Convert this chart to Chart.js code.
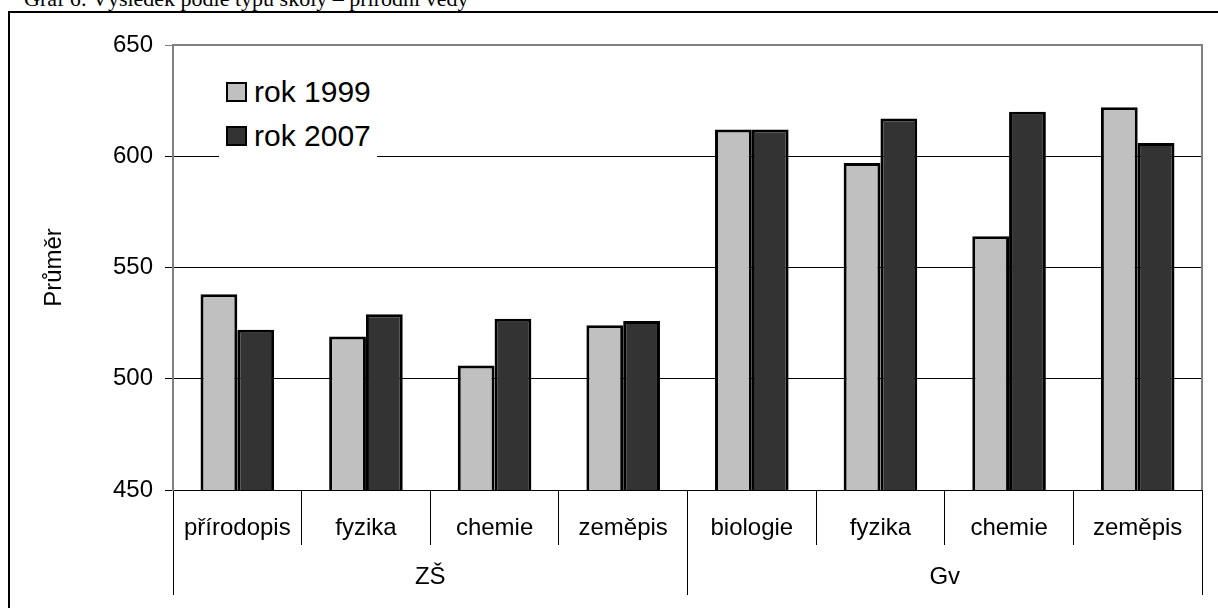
<!DOCTYPE html>
<html>
<head>
<meta charset="utf-8">
<script src="https://cdn.jsdelivr.net/npm/chart.js@4.4.0/dist/chart.umd.min.js"></script>
<style>
  body { margin: 0; background: #fff; overflow: hidden; width: 1218px; height: 608px; position: relative; }
  #title { position: absolute; left: 24px; top: -12px; font-family: 'Liberation Serif', 'Times New Roman', serif; font-size: 22px; line-height: 22px; white-space: nowrap; color: #000; }
  #frame { position: absolute; left: 8px; top: 11px; width: 1300px; height: 700px; border: 2px solid #000; }
  #chart { position: absolute; left: 0; top: 0; }
  #legend { position: absolute; left: 219px; top: 70px; width: 158px; height: 97px; background: #fff; font-family: 'Liberation Sans', Arial, sans-serif; font-size: 30px; color: #000; }
  .item { display: flex; align-items: center; height: 44px; line-height: 44px; padding-left: 7px; }
  .box { width: 21px; height: 20px; box-sizing: border-box; border: 2px solid #000; margin-right: 7px; }
</style>
</head>
<body>
<div id="title">Graf 6: Výsledek podle typu školy – přírodní vědy</div>
<div id="frame"></div>
<canvas id="chart" width="1218" height="608"></canvas>
<div id="legend"></div>
<script>
// hodnoty
const subjects = ['přírodopis', 'fyzika', 'chemie', 'zeměpis', 'biologie', 'fyzika', 'chemie', 'zeměpis'];
const schoolTypes = ['ZŠ', 'Gv'];
const seriesLabels = ['rok 1999', 'rok 2007'];
const rok1999 = [538, 519, 506, 524, 612, 597, 564, 622];
const rok2007 = [522, 529, 527, 526, 612, 617, 620, 606];

const colors = ['#c0c0c0', '#333333'];
const font = { family: "'Liberation Sans', Arial, sans-serif", size: 24 };

// šedý rámeček kolem plochy grafu (nahoře a vpravo)
const plotFrame = {
    id: 'plotFrame',
    beforeDatasetsDraw(chart) {
        const { ctx, chartArea: a } = chart;
        ctx.save();
        ctx.strokeStyle = '#808080';
        ctx.lineWidth = 2;
        ctx.beginPath();
        ctx.moveTo(a.left, a.top);
        ctx.lineTo(a.right, a.top);
        ctx.lineTo(a.right, a.bottom);
        ctx.stroke();
        ctx.restore();
    }
};

const ctx = document.getElementById('chart').getContext('2d');
const chart = new Chart(ctx, {
    type: 'bar',
    data: {
        labels: subjects,
        datasets: [rok1999, rok2007].map((values, i) => ({
            label: seriesLabels[i],
            data: values,
            backgroundColor: colors[i],
            borderColor: '#000',
            borderWidth: 3,
            categoryPercentage: 0.572,
            barPercentage: 1
        }))
    },
    options: {
        responsive: false,
        animation: false,
        devicePixelRatio: 1,
        layout: { padding: { top: 45, right: 16, left: 0, bottom: 0 } },
        plugins: {
            legend: { display: false },
            tooltip: { enabled: false }
        },
        scales: {
            x: {
                position: 'bottom',
                offset: true,
                grid: { offset: true, drawOnChartArea: false, tickLength: 55, color: '#000' },
                border: { color: '#000', width: 1 },
                ticks: { font, color: '#000', padding: -31, maxRotation: 0, autoSkip: false },
                afterFit: s => { s.height = 55; }
            },
            x2: {
                type: 'category',
                labels: schoolTypes,
                position: 'bottom',
                offset: true,
                grid: { offset: true, drawOnChartArea: false, tickLength: 50, color: '#000' },
                border: { display: false },
                ticks: { font, color: '#000', padding: -32, maxRotation: 0, autoSkip: false },
                afterFit: s => { s.height = 63; }
            },
            y: {
                min: 450,
                max: 650,
                ticks: { stepSize: 50, font, color: '#000', padding: 12 },
                grid: {
                    color: c => (c.tick && c.tick.value === 650 ? '#808080' : '#000'),
                    tickLength: 8
                },
                border: { color: '#808080', width: 2 },
                title: { display: true, text: 'Průměr', font, color: '#000', padding: { top: 40, bottom: 0 } },
                afterFit: s => { s.width = 173; }
            }
        }
    },
    plugins: [plotFrame]
});

// legenda uvnitř plochy grafu
const legend = document.getElementById('legend');
chart.data.datasets.forEach(ds => {
    const row = document.createElement('div');
    row.className = 'item';
    const box = document.createElement('span');
    box.className = 'box';
    box.style.background = ds.backgroundColor;
    row.appendChild(box);
    row.appendChild(document.createTextNode(ds.label));
    legend.appendChild(row);
});
</script>
</body>
</html>
